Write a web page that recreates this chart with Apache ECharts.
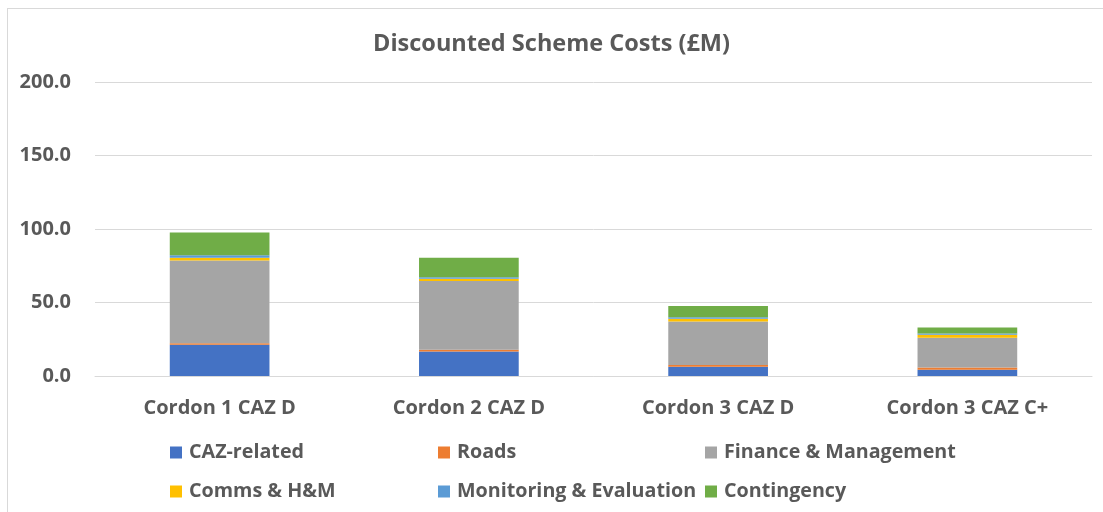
<!DOCTYPE html>
<html>
<head>
<meta charset="utf-8">
<script src="https://cdn.jsdelivr.net/npm/echarts@6/dist/echarts.min.js"></script>
<style>
  html, body { margin: 0; padding: 0; background: #fff; }
  #wrap { position: relative; width: 1103px; height: 512px; }
  #frame { position: absolute; left: 7px; top: 8px; right: 0; bottom: 0; border-left: 1px solid #d9d9d9; border-top: 1px solid #d9d9d9; }
  #chart { position: absolute; left: 0; top: 0; width: 1103px; height: 512px; }
</style>
</head>
<body>
<div id="wrap">
  <div id="frame"></div>
  <div id="chart"></div>
</div>
<script>
// 方案类别
var categories = ['Cordon 1 CAZ D', 'Cordon 2 CAZ D', 'Cordon 3 CAZ D', 'Cordon 3 CAZ C+'];
// 各项费用 (£M)
var cazRelated  = [21.2, 16.7, 6.3, 4.3];
var roads       = [1.0, 1.1, 1.2, 1.4];
var finance     = [56.3, 46.9, 29.5, 20.4];
var comms       = [1.9, 1.5, 1.9, 1.9];
var monitoring  = [1.8, 1.0, 1.1, 0.9];
var contingency = [15.4, 13.2, 7.7, 4.1];

var seriesNames = ['CAZ-related', 'Roads', 'Finance & Management', 'Comms & H&M', 'Monitoring & Evaluation', 'Contingency'];
var seriesData = [cazRelated, roads, finance, comms, monitoring, contingency];
var colors = ['#4472C4', '#ED7D31', '#A5A5A5', '#FFC000', '#5B9BD5', '#70AD47'];

var font = '"Open Sans", Lato, sans-serif';
var textColor = '#595959';

var chart = echarts.init(document.getElementById('chart'));

// 图例分三列
function legendCol(left, names) {
  return {
    orient: 'vertical',
    left: left,
    top: 437,
    itemWidth: 12,
    itemHeight: 12,
    itemGap: 18,
    icon: 'rect',
    data: names,
    textStyle: { color: textColor, fontFamily: font, fontWeight: 'bold', fontSize: 19.7, lineHeight: 21, padding: [0, 0, 0, 2] }
  };
}

var option = {
  color: colors,
  animation: false,
  title: {
    text: 'Discounted Scheme Costs (£M)',
    left: 'center',
    top: 27,
    textStyle: { color: textColor, fontFamily: font, fontWeight: 'bold', fontSize: 23.5 }
  },
  legend: [
    legendCol(165, [seriesNames[0], seriesNames[3]]),
    legendCol(433, [seriesNames[1], seriesNames[4]]),
    legendCol(700, [seriesNames[2], seriesNames[5]])
  ],
  grid: { left: 95, right: 11, top: 82, bottom: 136, containLabel: false },
  xAxis: {
    type: 'category',
    data: categories,
    axisTick: { show: false },
    axisLine: { lineStyle: { color: '#d9d9d9', width: 1 } },
    axisLabel: { color: textColor, fontFamily: font, fontWeight: 'bold', fontSize: 20, margin: 22 }
  },
  yAxis: {
    type: 'value',
    min: 0,
    max: 200,
    interval: 50,
    axisLine: { show: false },
    axisTick: { show: false },
    splitLine: { lineStyle: { color: '#d9d9d9', width: 1 } },
    axisLabel: {
      color: textColor, fontFamily: font, fontWeight: 'bold', fontSize: 20, margin: 24,
      formatter: function (v) { return v.toFixed(1); }
    }
  },
  series: seriesNames.map(function (name, i) {
    return {
      name: name,
      type: 'bar',
      stack: 'total',
      barWidth: '40%',
      data: seriesData[i]
    };
  })
};

chart.setOption(option);
</script>
</body>
</html>
